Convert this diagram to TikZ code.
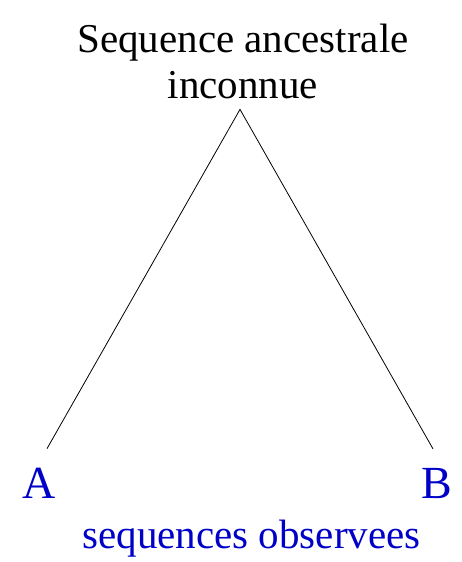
\documentclass[tikz,border=0pt]{standalone}
\usepackage{fontspec}
\setmainfont{Liberation Serif}
\definecolor{obsblue}{RGB}{0,0,200}
\begin{document}
\begin{tikzpicture}[x=1pt,y=-1pt,
  label text/.style={inner sep=0pt,outer sep=0pt,font=\fontsize{41}{45.5}\selectfont},
  leaf text/.style={label text,text=obsblue,font=\fontsize{46}{54}\selectfont}]
\path[use as bounding box] (0,0) rectangle (462,562);
\path[fill=white,draw=none] (0,0) rectangle (462,562);
\node[label text,align=center,anchor=base] (titre) at (243,98) {Sequence ancestrale\\inconnue};
\node[leaf text,anchor=base] (seqA) at (39,498) {A};
\node[leaf text,anchor=base] (seqB) at (437,498) {B};
\node[label text,text=obsblue,anchor=base] (obs) at (251.5,548) {sequences observees};
\draw[line width=0.8pt] ([shift={(8,-19)}]seqA.north) -- ([shift={(-3,11)}]titre.south)
  -- ([shift={(-4,-19)}]seqB.north);
\end{tikzpicture}
\end{document}
